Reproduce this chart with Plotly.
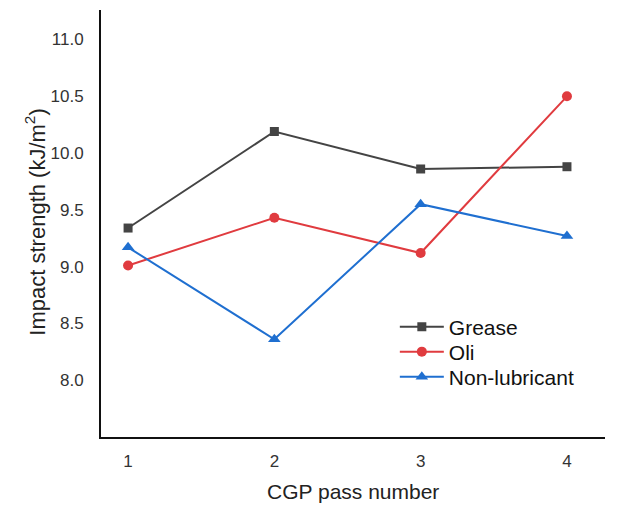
import plotly.graph_objects as go

passes = [1, 2, 3, 4]
grease = [9.34, 10.19, 9.86, 9.88]
oli = [9.01, 9.43, 9.12, 10.50]
non_lub = [9.17, 8.36, 9.55, 9.27]
y_ticks = [8.0, 8.5, 9.0, 9.5, 10.0, 10.5, 11.0]

series = [
    ("Grease", grease, "#444444", "square", 9, "legend"),
    ("Oli", oli, "#e03b3f", "circle", 10, "legend2"),
    ("Non-lubricant", non_lub, "#1f6fd0", "triangle-up", 11, "legend3"),
]

fig = go.Figure()
for name, vals, color, sym, msize, lg in series:
    fig.add_trace(go.Scatter(
        x=passes, y=vals, name=name, mode="lines+markers",
        line=dict(color=color, width=2),
        marker=dict(symbol=sym, size=msize, color=color),
        legend=lg,
    ))

# page has an 8px body margin, so the figure is drawn 8px smaller
W, H = 613, 499
L, R, T, B = 93, 16, 2, 70
PW, PH = W - L - R, H - T - B


def leg(yc):
    return dict(x=0.583, y=yc, xanchor="left", yanchor="middle",
                font=dict(size=21, color="#111111"),
                bgcolor="rgba(0,0,0,0)", itemwidth=44)


fig.update_layout(
    width=W, height=H,
    margin=dict(l=L, r=R, t=T, b=B, autoexpand=False),
    paper_bgcolor="white", plot_bgcolor="white",
    font=dict(family="Liberation Sans, Arial, sans-serif", color="#222222"),
    showlegend=True,
    legend=leg((429 - 319) / PH),
    legend2=leg((429 - 344) / PH),
    legend3=leg((429 - 369) / PH),
    xaxis=dict(
        range=[0.815, 4.26], tickvals=passes, ticktext=[str(p) for p in passes],
        showline=True, linecolor="#111111", linewidth=2, mirror=False,
        showgrid=False, zeroline=False, ticks="", automargin=False,
        ticklabelstandoff=8,
        tickfont=dict(size=17, color="#333333"),
    ),
    yaxis=dict(
        range=[7.5, 11.26], tickvals=y_ticks,
        ticktext=[f"{v:.1f}" for v in y_ticks],
        showline=True, linecolor="#111111", linewidth=2,
        showgrid=False, zeroline=False, ticks="", automargin=False,
        ticklabelstandoff=12,
        tickfont=dict(size=17, color="#333333"),
    ),
    annotations=[
        dict(text="CGP pass number", xref="paper", yref="paper",
             x=0.5, y=-55 / PH, xanchor="center", yanchor="middle",
             showarrow=False, font=dict(size=21, color="#222222")),
        dict(text="Impact strength (kJ/m<sup>2</sup>)", xref="paper", yref="paper",
             x=-66 / PW, y=0.502, xanchor="center", yanchor="middle",
             textangle=-90, showarrow=False, font=dict(size=22, color="#222222")),
    ],
)

fig.write_html("out.html")
